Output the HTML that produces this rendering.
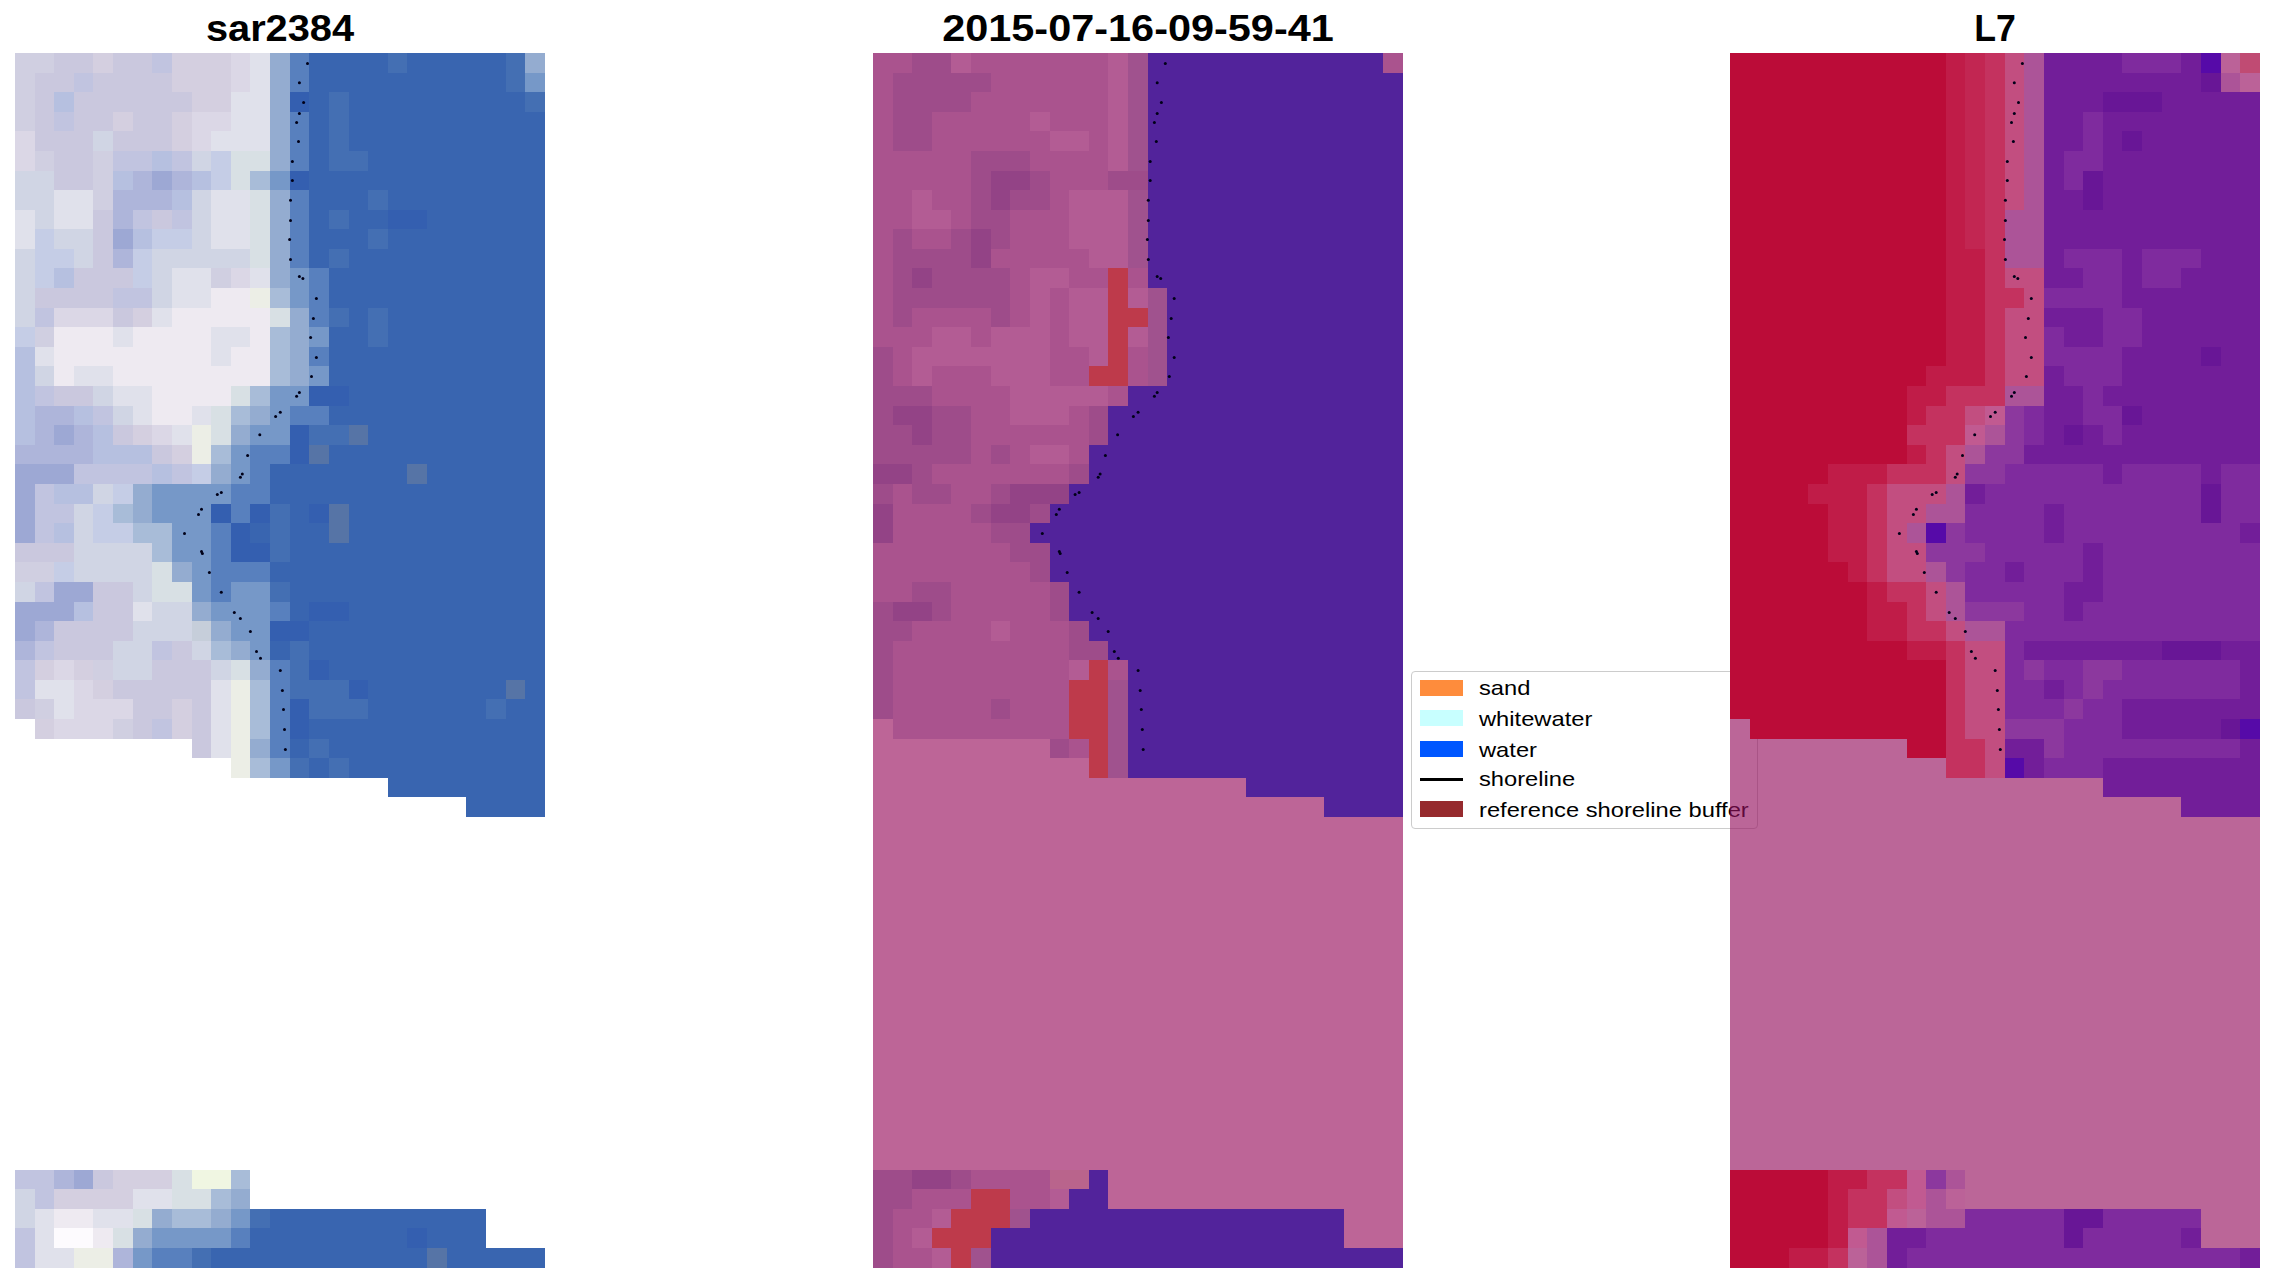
<!DOCTYPE html><html><head><meta charset="utf-8"><title>figure</title><style>

*{margin:0;padding:0;box-sizing:border-box}
html,body{width:2274px;height:1283px;overflow:hidden;background:#fff}
body{position:relative;font-family:"Liberation Sans",sans-serif;color:#000}
.pn{position:absolute;display:block}
.dots{position:absolute;left:0;top:0;fill:#000018}
.tt{position:absolute;width:500px;text-align:center;font-weight:bold;font-size:36px;line-height:40px;white-space:nowrap;transform-origin:50% 50%}
.lg{position:absolute;left:1411px;top:670.5px;width:347px;height:158px;border:1.8px solid #cccccc;border-radius:4px;background:#fff}
.li{position:absolute;left:1478.5px;font-size:20.8px;line-height:24px;white-space:nowrap;transform-origin:0 50%}
.lp{position:absolute;left:1420px;width:43px;height:15.8px}

</style></head><body>
<div class="tt" style="left:30.0px;top:9.3px;transform:scaleX(1.105)">sar2384</div>
<div class="tt" style="left:887.8px;top:9.3px;transform:scaleX(1.151)">2015-07-16-09-59-41</div>
<div class="tt" style="left:1744.9px;top:9.3px;transform:scaleX(0.990)">L7</div>
<svg class="pn" style="left:15.10px;top:53.00px;width:529.75px;height:1214.60px" viewBox="0 0 27 62" preserveAspectRatio="none" shape-rendering="crispEdges">
<path fill="#d0cfe1" d="M0 0h2v1h-2zM0 1h1v1h-1zM0 2h1v1h-1zM0 3h1v1h-1zM1 5h1v1h-1zM4 5h1v1h-1zM4 6h1v1h-1zM4 7h1v1h-1zM10 11h1v1h-1zM1 14h1v1h-1zM0 26h2v1h-2zM4 31h1v1h-1zM1 33h1v1h-1zM5 34h1v1h-1z"/>
<path fill="#cac8de" d="M2 0h2v1h-2zM5 0h2v1h-2zM1 1h2v1h-2zM4 1h4v1h-4zM1 2h1v1h-1zM3 2h6v1h-6zM1 3h1v1h-1zM3 3h2v1h-2zM6 3h2v1h-2zM1 4h3v1h-3zM5 4h3v1h-3zM2 5h2v1h-2zM2 6h2v1h-2zM4 8h1v1h-1zM7 8h1v1h-1zM4 9h1v1h-1zM4 10h1v1h-1zM3 11h3v1h-3zM1 12h4v1h-4zM5 13h1v1h-1zM2 17h2v1h-2zM5 19h1v1h-1zM7 20h1v1h-1zM0 25h3v1h-3zM4 27h2v1h-2zM4 28h2v1h-2zM2 29h4v1h-4zM2 30h3v1h-3zM8 30h1v1h-1zM7 31h3v1h-3zM5 32h5v1h-5zM0 33h1v1h-1zM6 33h2v1h-2zM9 33h1v1h-1zM6 34h1v1h-1zM9 34h1v1h-1zM9 35h1v1h-1zM4 57h1v1h-1z"/>
<path fill="#d4cfe0" d="M4 0h1v1h-1zM8 0h3v1h-3zM8 1h3v1h-3zM9 2h2v1h-2zM5 3h1v1h-1zM8 3h1v1h-1zM8 4h1v1h-1zM6 13h1v1h-1zM6 19h1v1h-1zM8 20h1v1h-1zM1 31h1v1h-1zM3 31h1v1h-1zM4 32h1v1h-1zM8 33h1v1h-1zM1 34h1v1h-1zM8 34h1v1h-1zM5 57h3v1h-3zM2 58h4v1h-4z"/>
<path fill="#c1c4e0" d="M7 0h1v1h-1zM3 1h1v1h-1zM2 3h1v1h-1zM5 5h2v1h-2zM8 5h1v1h-1zM6 8h1v1h-1zM8 8h1v1h-1zM5 12h2v1h-2zM1 13h1v1h-1zM1 17h1v1h-1zM4 18h1v1h-1zM3 21h4v1h-4zM8 21h1v1h-1zM1 22h1v1h-1zM1 23h2v1h-2zM1 24h1v1h-1zM1 27h1v1h-1zM1 30h1v1h-1zM7 30h1v1h-1zM0 31h1v1h-1zM0 32h1v1h-1zM7 34h1v1h-1zM0 57h2v1h-2zM1 58h1v1h-1zM0 60h1v1h-1zM0 61h1v1h-1z"/>
<path fill="#dbd7e6" d="M11 0h1v1h-1zM11 1h1v1h-1zM9 3h2v1h-2zM0 4h1v1h-1zM9 4h1v1h-1zM0 5h1v1h-1zM11 11h1v1h-1zM2 13h3v1h-3zM7 19h1v1h-1zM2 31h1v1h-1zM3 32h1v1h-1zM3 33h3v1h-3zM2 34h3v1h-3z"/>
<path fill="#e0e1eb" d="M12 0h1v1h-1zM12 1h1v1h-1zM11 2h2v1h-2zM11 3h2v1h-2zM10 4h3v1h-3zM2 7h2v1h-2zM10 7h2v1h-2zM0 8h1v1h-1zM2 8h2v1h-2zM10 8h2v1h-2zM0 9h1v1h-1zM10 9h2v1h-2zM8 11h2v1h-2zM12 11h1v1h-1zM8 12h2v1h-2zM7 13h1v1h-1zM5 14h1v1h-1zM10 14h2v1h-2zM1 15h1v1h-1zM10 15h1v1h-1zM3 16h2v1h-2zM5 17h2v1h-2zM6 18h1v1h-1zM9 18h1v1h-1zM8 19h1v1h-1zM6 28h1v1h-1zM1 32h2v1h-2zM10 32h1v1h-1zM2 33h1v1h-1zM10 33h1v1h-1zM10 34h1v1h-1zM10 35h1v1h-1zM6 58h2v1h-2zM1 59h1v1h-1zM4 59h2v1h-2zM1 60h1v1h-1zM1 61h2v1h-2z"/>
<path fill="#94acd0" d="M13 0h1v1h-1zM26 0h1v1h-1zM13 1h1v1h-1zM13 2h1v1h-1zM13 3h1v1h-1zM13 4h1v1h-1zM13 5h1v1h-1zM13 7h1v1h-1zM13 8h1v1h-1zM13 9h1v1h-1zM13 10h1v1h-1zM13 11h1v1h-1zM14 13h1v1h-1zM14 14h1v1h-1zM14 15h1v1h-1zM14 16h1v1h-1zM12 18h1v1h-1zM11 19h1v1h-1zM10 21h1v1h-1zM6 22h1v1h-1zM6 23h1v1h-1zM8 26h1v1h-1zM9 28h1v1h-1zM10 29h1v1h-1zM11 30h1v1h-1zM12 31h1v1h-1zM12 35h1v1h-1zM11 58h1v1h-1zM7 59h1v1h-1zM10 59h1v1h-1zM6 60h1v1h-1z"/>
<path fill="#5880be" d="M14 0h1v1h-1zM14 1h1v1h-1zM14 3h1v1h-1zM14 4h1v1h-1zM14 5h1v1h-1zM14 7h1v1h-1zM14 8h1v1h-1zM14 9h1v1h-1zM14 10h1v1h-1zM15 11h1v1h-1zM15 12h1v1h-1zM15 13h1v1h-1zM15 15h1v1h-1zM14 18h2v1h-2zM12 20h2v1h-2zM12 21h1v1h-1zM11 22h2v1h-2zM11 23h1v1h-1zM10 24h1v1h-1zM10 25h1v1h-1zM10 26h3v1h-3zM10 27h1v1h-1zM13 28h1v1h-1zM13 31h1v1h-1zM13 32h1v1h-1zM13 33h1v1h-1zM13 34h1v1h-1zM13 35h1v1h-1zM11 60h1v1h-1zM7 61h2v1h-2z"/>
<path fill="#3965b0" d="M15 0h4v1h-4zM20 0h5v1h-5zM15 1h10v1h-10zM15 2h1v1h-1zM17 2h9v1h-9zM15 3h1v1h-1zM17 3h10v1h-10zM15 4h1v1h-1zM17 4h10v1h-10zM15 5h1v1h-1zM18 5h9v1h-9zM15 6h12v1h-12zM15 7h3v1h-3zM19 7h8v1h-8zM15 8h1v1h-1zM17 8h2v1h-2zM21 8h6v1h-6zM15 9h3v1h-3zM19 9h8v1h-8zM15 10h1v1h-1zM17 10h10v1h-10zM16 11h11v1h-11zM16 12h11v1h-11zM17 13h1v1h-1zM19 13h8v1h-8zM16 14h2v1h-2zM19 14h8v1h-8zM16 15h11v1h-11zM16 16h11v1h-11zM17 17h10v1h-10zM16 18h11v1h-11zM18 19h9v1h-9zM16 20h11v1h-11zM13 21h7v1h-7zM21 21h6v1h-6zM13 22h14v1h-14zM14 23h1v1h-1zM17 23h10v1h-10zM12 24h1v1h-1zM14 24h2v1h-2zM17 24h10v1h-10zM14 25h13v1h-13zM13 26h14v1h-14zM14 27h13v1h-13zM14 28h1v1h-1zM17 28h10v1h-10zM15 29h12v1h-12zM13 30h1v1h-1zM15 30h12v1h-12zM16 31h11v1h-11zM18 32h7v1h-7zM26 32h1v1h-1zM18 33h6v1h-6zM25 33h2v1h-2zM15 34h12v1h-12zM14 35h1v1h-1zM16 35h11v1h-11zM15 36h1v1h-1zM17 36h10v1h-10zM19 37h8v1h-8zM23 38h4v1h-4zM13 59h11v1h-11zM12 60h8v1h-8zM21 60h3v1h-3zM10 61h11v1h-11zM22 61h5v1h-5z"/>
<path fill="#446fb3" d="M19 0h1v1h-1zM25 0h1v1h-1zM25 1h1v1h-1zM16 2h1v1h-1zM26 2h1v1h-1zM16 3h1v1h-1zM16 4h1v1h-1zM16 5h2v1h-2zM18 7h1v1h-1zM16 8h1v1h-1zM18 9h1v1h-1zM16 10h1v1h-1zM16 13h1v1h-1zM18 13h1v1h-1zM18 14h1v1h-1zM15 19h2v1h-2zM13 23h1v1h-1zM13 24h1v1h-1zM13 25h1v1h-1zM13 27h1v1h-1zM14 30h1v1h-1zM14 31h1v1h-1zM14 32h3v1h-3zM15 33h3v1h-3zM24 33h1v1h-1zM15 35h1v1h-1zM14 36h1v1h-1zM16 36h1v1h-1zM12 59h1v1h-1zM9 61h1v1h-1z"/>
<path fill="#7698c8" d="M26 1h1v1h-1zM13 6h1v1h-1zM14 11h1v1h-1zM14 12h1v1h-1zM15 14h1v1h-1zM15 16h1v1h-1zM13 17h2v1h-2zM13 18h1v1h-1zM12 19h2v1h-2zM11 20h1v1h-1zM11 21h1v1h-1zM7 22h4v1h-4zM7 23h3v1h-3zM8 24h2v1h-2zM8 25h2v1h-2zM9 26h1v1h-1zM9 27h1v1h-1zM11 27h2v1h-2zM10 28h3v1h-3zM11 29h2v1h-2zM12 30h1v1h-1zM13 36h1v1h-1zM11 59h1v1h-1zM7 60h4v1h-4zM6 61h1v1h-1z"/>
<path fill="#b6c0e0" d="M2 2h1v1h-1zM7 5h1v1h-1zM5 6h1v1h-1zM9 6h1v1h-1zM8 7h1v1h-1zM6 9h1v1h-1zM2 11h1v1h-1zM0 15h1v1h-1zM0 16h1v1h-1zM0 17h1v1h-1zM0 18h1v1h-1zM3 18h1v1h-1zM0 19h1v1h-1zM4 19h1v1h-1zM4 20h3v1h-3zM7 21h1v1h-1zM2 22h2v1h-2zM2 24h1v1h-1zM3 28h1v1h-1z"/>
<path fill="#345fb0" d="M14 2h1v1h-1zM14 6h1v1h-1zM19 8h2v1h-2zM15 17h2v1h-2zM14 19h1v1h-1zM14 20h1v1h-1zM10 23h1v1h-1zM12 23h1v1h-1zM15 23h1v1h-1zM11 24h1v1h-1zM11 25h2v1h-2zM15 28h2v1h-2zM13 29h2v1h-2zM15 31h1v1h-1zM17 32h1v1h-1zM14 33h1v1h-1zM14 34h1v1h-1zM20 60h1v1h-1z"/>
<path fill="#d0d5e4" d="M4 4h1v1h-1zM9 5h1v1h-1zM0 6h2v1h-2zM0 7h2v1h-2zM9 7h1v1h-1zM1 8h1v1h-1zM9 8h1v1h-1zM2 9h2v1h-2zM9 9h1v1h-1zM0 10h1v1h-1zM3 10h1v1h-1zM7 10h5v1h-5zM0 11h1v1h-1zM7 11h1v1h-1zM0 12h1v1h-1zM7 12h1v1h-1zM0 13h1v1h-1zM1 16h1v1h-1zM4 17h1v1h-1zM5 18h1v1h-1zM4 22h1v1h-1zM3 23h1v1h-1zM3 24h1v1h-1zM3 25h4v1h-4zM3 26h4v1h-4zM0 27h1v1h-1zM6 27h1v1h-1zM7 28h2v1h-2zM6 29h3v1h-3zM5 30h2v1h-2zM9 30h1v1h-1zM5 31h2v1h-2zM10 31h1v1h-1zM0 58h1v1h-1zM0 59h1v1h-1z"/>
<path fill="#c5cde6" d="M10 5h1v1h-1zM10 6h1v1h-1zM1 9h1v1h-1zM7 9h2v1h-2zM1 10h2v1h-2zM6 10h1v1h-1zM1 11h1v1h-1zM6 11h1v1h-1zM0 14h1v1h-1zM9 21h1v1h-1zM5 22h1v1h-1zM4 23h1v1h-1zM4 24h2v1h-2zM2 26h1v1h-1z"/>
<path fill="#d8e0e4" d="M11 5h2v1h-2zM11 6h1v1h-1zM12 7h1v1h-1zM12 8h1v1h-1zM12 9h1v1h-1zM12 10h1v1h-1zM13 13h1v1h-1zM11 17h1v1h-1zM10 18h1v1h-1zM10 19h1v1h-1zM7 26h1v1h-1zM7 27h2v1h-2zM11 31h1v1h-1zM8 57h1v1h-1zM8 58h2v1h-2zM6 59h1v1h-1zM5 60h1v1h-1z"/>
<path fill="#aeb5da" d="M6 6h1v1h-1zM8 6h1v1h-1zM5 7h3v1h-3zM5 8h1v1h-1zM5 10h1v1h-1zM1 18h2v1h-2zM1 19h1v1h-1zM3 19h1v1h-1zM0 20h4v1h-4zM1 29h1v1h-1zM0 30h1v1h-1zM2 57h1v1h-1zM5 61h1v1h-1z"/>
<path fill="#9da8d4" d="M7 6h1v1h-1zM5 9h1v1h-1zM2 19h1v1h-1zM0 21h3v1h-3zM0 22h1v1h-1zM0 23h1v1h-1zM0 24h1v1h-1zM2 27h2v1h-2zM0 28h3v1h-3zM0 29h1v1h-1zM3 57h1v1h-1z"/>
<path fill="#a8bcd8" d="M12 6h1v1h-1zM13 12h1v1h-1zM13 14h1v1h-1zM13 15h1v1h-1zM13 16h1v1h-1zM12 17h1v1h-1zM11 18h1v1h-1zM10 20h1v1h-1zM5 23h1v1h-1zM6 24h2v1h-2zM7 25h1v1h-1zM10 30h1v1h-1zM12 32h1v1h-1zM12 33h1v1h-1zM12 34h1v1h-1zM12 36h1v1h-1zM11 57h1v1h-1zM10 58h1v1h-1zM8 59h2v1h-2z"/>
<path fill="#eeeaf1" d="M10 12h2v1h-2zM8 13h5v1h-5zM2 14h3v1h-3zM6 14h4v1h-4zM12 14h1v1h-1zM2 15h8v1h-8zM11 15h2v1h-2zM2 16h1v1h-1zM5 16h8v1h-8zM7 17h4v1h-4zM7 18h2v1h-2zM2 59h2v1h-2zM4 60h1v1h-1z"/>
<path fill="#eceee6" d="M12 12h1v1h-1zM9 19h1v1h-1zM9 20h1v1h-1zM11 32h1v1h-1zM11 33h1v1h-1zM11 34h1v1h-1zM11 35h1v1h-1zM11 36h1v1h-1zM3 61h2v1h-2z"/>
<path fill="#5674a6" d="M17 19h1v1h-1zM15 20h1v1h-1zM20 21h1v1h-1zM16 23h1v1h-1zM16 24h1v1h-1zM25 32h1v1h-1zM21 61h1v1h-1z"/>
<path fill="#c6ceda" d="M9 29h1v1h-1z"/>
<path fill="#f0f6e2" d="M9 57h2v1h-2z"/>
<path fill="#fdfbfe" d="M2 60h2v1h-2z"/>
</svg>
<svg class="pn" style="left:872.90px;top:53.00px;width:529.75px;height:1214.60px" viewBox="0 0 27 62" preserveAspectRatio="none" shape-rendering="crispEdges">
<rect width="27" height="62" fill="#52239b"/>
<path fill="#aa538e" d="M0 0h2v1h-2zM5 0h7v1h-7zM26 0h1v1h-1zM0 1h1v1h-1zM6 1h6v1h-6zM0 2h1v1h-1zM5 2h7v1h-7zM0 3h1v1h-1zM3 3h5v1h-5zM9 3h3v1h-3zM0 4h1v1h-1zM3 4h6v1h-6zM11 4h1v1h-1zM0 5h5v1h-5zM8 5h4v1h-4zM0 6h5v1h-5zM9 6h3v1h-3zM0 7h2v1h-2zM3 7h2v1h-2zM9 7h1v1h-1zM0 8h2v1h-2zM4 8h1v1h-1zM7 8h3v1h-3zM0 9h1v1h-1zM2 9h2v1h-2zM7 9h3v1h-3zM0 10h1v1h-1zM6 10h5v1h-5zM0 11h1v1h-1zM7 11h1v1h-1zM10 11h2v1h-2zM13 11h1v1h-1zM0 12h1v1h-1zM7 12h1v1h-1zM9 12h1v1h-1zM0 13h1v1h-1zM2 13h4v1h-4zM7 13h1v1h-1zM9 13h1v1h-1zM0 14h3v1h-3zM5 14h1v1h-1zM9 14h1v1h-1zM1 15h1v1h-1zM9 15h2v1h-2zM13 15h1v1h-1zM1 16h1v1h-1zM3 16h3v1h-3zM9 16h2v1h-2zM13 16h1v1h-1zM3 17h4v1h-4zM12 17h1v1h-1zM5 18h2v1h-2zM10 18h1v1h-1zM5 19h6v1h-6zM5 20h1v1h-1zM7 20h1v1h-1zM10 20h1v1h-1zM3 21h7v1h-7zM1 22h1v1h-1zM4 22h2v1h-2zM1 23h4v1h-4zM1 24h5v1h-5zM0 25h7v1h-7zM0 26h8v1h-8zM0 27h2v1h-2zM4 27h5v1h-5zM4 28h5v1h-5zM2 29h4v1h-4zM7 29h3v1h-3zM1 30h9v1h-9zM1 31h9v1h-9zM12 31h1v1h-1zM1 32h9v1h-9zM1 33h5v1h-5zM7 33h3v1h-3zM1 34h9v1h-9zM10 35h1v1h-1zM5 57h4v1h-4zM2 58h3v1h-3zM7 58h2v1h-2zM1 59h2v1h-2zM1 60h1v1h-1zM1 61h2v1h-2z"/>
<path fill="#9e4c8a" d="M2 0h2v1h-2zM1 1h5v1h-5zM1 2h4v1h-4zM1 3h2v1h-2zM1 4h2v1h-2zM5 5h3v1h-3zM5 6h1v1h-1zM8 6h1v1h-1zM12 6h2v1h-2zM5 7h1v1h-1zM7 7h2v1h-2zM5 8h2v1h-2zM1 9h1v1h-1zM4 9h1v1h-1zM6 9h1v1h-1zM1 10h4v1h-4zM1 11h1v1h-1zM3 11h4v1h-4zM1 12h6v1h-6zM1 13h1v1h-1zM6 13h1v1h-1zM0 15h1v1h-1zM0 16h1v1h-1zM0 17h3v1h-3zM0 18h1v1h-1zM3 18h2v1h-2zM11 18h1v1h-1zM0 19h2v1h-2zM3 19h2v1h-2zM11 19h1v1h-1zM0 20h5v1h-5zM6 20h1v1h-1zM2 21h1v1h-1zM10 21h1v1h-1zM0 22h1v1h-1zM2 22h2v1h-2zM6 22h1v1h-1zM5 23h1v1h-1zM8 23h1v1h-1zM6 24h2v1h-2zM7 25h2v1h-2zM8 26h1v1h-1zM2 27h2v1h-2zM9 27h1v1h-1zM0 28h1v1h-1zM3 28h1v1h-1zM9 28h1v1h-1zM0 29h2v1h-2zM10 29h1v1h-1zM0 30h1v1h-1zM10 30h2v1h-2zM0 31h1v1h-1zM0 32h1v1h-1zM0 33h1v1h-1zM6 33h1v1h-1zM9 35h1v1h-1zM0 57h2v1h-2zM4 57h1v1h-1zM0 58h2v1h-2zM0 59h1v1h-1zM0 60h1v1h-1zM0 61h1v1h-1z"/>
<path fill="#b35c94" d="M4 0h1v1h-1zM12 0h1v1h-1zM12 1h1v1h-1zM12 2h1v1h-1zM8 3h1v1h-1zM12 3h1v1h-1zM9 4h2v1h-2zM12 4h1v1h-1zM12 5h1v1h-1zM2 7h1v1h-1zM10 7h3v1h-3zM2 8h2v1h-2zM10 8h3v1h-3zM10 9h3v1h-3zM11 10h2v1h-2zM8 11h2v1h-2zM8 12h1v1h-1zM10 12h2v1h-2zM13 12h1v1h-1zM8 13h1v1h-1zM10 13h2v1h-2zM3 14h2v1h-2zM6 14h3v1h-3zM10 14h2v1h-2zM13 14h1v1h-1zM2 15h7v1h-7zM11 15h1v1h-1zM2 16h1v1h-1zM6 16h3v1h-3zM7 17h5v1h-5zM7 18h3v1h-3zM8 20h2v1h-2zM6 29h1v1h-1zM10 31h1v1h-1zM9 58h1v1h-1zM3 59h1v1h-1zM2 60h1v1h-1zM3 61h1v1h-1z"/>
<path fill="#a0528e" d="M13 0h1v1h-1zM13 1h1v1h-1zM13 2h1v1h-1zM13 3h1v1h-1zM13 4h1v1h-1zM13 5h1v1h-1zM13 7h1v1h-1zM13 8h1v1h-1zM13 9h1v1h-1zM13 10h1v1h-1zM14 12h1v1h-1zM14 13h1v1h-1zM14 14h1v1h-1zM14 15h1v1h-1zM14 16h1v1h-1zM12 32h1v1h-1zM12 33h1v1h-1zM12 34h1v1h-1zM12 35h1v1h-1zM12 36h1v1h-1zM7 59h1v1h-1zM5 61h1v1h-1z"/>
<path fill="#934386" d="M6 6h2v1h-2zM6 7h1v1h-1zM5 9h1v1h-1zM5 10h1v1h-1zM2 11h1v1h-1zM1 18h2v1h-2zM2 19h1v1h-1zM0 21h2v1h-2zM7 22h3v1h-3zM0 23h1v1h-1zM6 23h2v1h-2zM0 24h1v1h-1zM1 28h2v1h-2zM2 57h2v1h-2z"/>
<path fill="#be3a4b" d="M12 11h1v1h-1zM12 12h1v1h-1zM12 13h2v1h-2zM12 14h1v1h-1zM12 15h1v1h-1zM11 16h2v1h-2zM11 31h1v1h-1zM10 32h2v1h-2zM10 33h2v1h-2zM10 34h2v1h-2zM11 35h1v1h-1zM11 36h1v1h-1zM5 58h2v1h-2zM4 59h3v1h-3zM3 60h3v1h-3zM4 61h1v1h-1z"/>
<path fill="#bd6597" d="M0 34h1v1h-1zM0 35h9v1h-9zM0 36h11v1h-11zM0 37h19v1h-19zM0 38h23v1h-23zM0 39h27v1h-27zM0 40h27v1h-27zM0 41h27v1h-27zM0 42h27v1h-27zM0 43h27v1h-27zM0 44h27v1h-27zM0 45h27v1h-27zM0 46h27v1h-27zM0 47h27v1h-27zM0 48h27v1h-27zM0 49h27v1h-27zM0 50h27v1h-27zM0 51h27v1h-27zM0 52h27v1h-27zM0 53h27v1h-27zM0 54h27v1h-27zM0 55h27v1h-27zM0 56h27v1h-27zM12 57h15v1h-15zM12 58h15v1h-15zM24 59h3v1h-3zM24 60h3v1h-3z"/>
<path fill="#b9648c" d="M9 57h2v1h-2z"/>
</svg>
<div class="lg"></div>
<div class="li" style="top:676.3px;transform:scaleX(1.140)">sand</div>
<div class="lp" style="top:679.9px;background:rgb(254,140,60)"></div>
<div class="li" style="top:706.7px;transform:scaleX(1.140)">whitewater</div>
<div class="lp" style="top:710.3px;background:rgb(200,255,255)"></div>
<div class="li" style="top:737.6px;transform:scaleX(1.140)">water</div>
<div class="lp" style="top:741.2px;background:rgb(0,87,255)"></div>
<div class="li" style="top:767.4px;transform:scaleX(1.140)">shoreline</div>
<div class="lp" style="top:777.8px;height:3px;background:#000"></div>
<div class="li" style="top:797.8px;transform:scaleX(1.140)">reference shoreline buffer</div>
<div class="lp" style="top:801.4px;background:rgb(150,42,46)"></div>
<svg class="pn" style="left:1730.00px;top:53.00px;width:529.75px;height:1214.60px" viewBox="0 0 27 62" preserveAspectRatio="none" shape-rendering="crispEdges">
<path fill="#bb0c38" d="M0 0h11v1h-11zM0 1h11v1h-11zM0 2h11v1h-11zM0 3h11v1h-11zM0 4h11v1h-11zM0 5h11v1h-11zM0 6h11v1h-11zM0 7h11v1h-11zM0 8h11v1h-11zM0 9h11v1h-11zM0 10h11v1h-11zM0 11h11v1h-11zM0 12h11v1h-11zM0 13h11v1h-11zM0 14h11v1h-11zM0 15h11v1h-11zM0 16h10v1h-10zM0 17h9v1h-9zM0 18h9v1h-9zM0 19h9v1h-9zM0 20h9v1h-9zM0 21h5v1h-5zM0 22h4v1h-4zM0 23h5v1h-5zM0 24h5v1h-5zM0 25h5v1h-5zM0 26h6v1h-6zM0 27h7v1h-7zM0 28h7v1h-7zM0 29h7v1h-7zM0 30h9v1h-9zM0 31h11v1h-11zM0 32h11v1h-11zM0 33h11v1h-11zM1 34h10v1h-10zM9 35h2v1h-2zM0 57h5v1h-5zM0 58h5v1h-5zM0 59h5v1h-5zM0 60h5v1h-5zM0 61h3v1h-3z"/>
<path fill="#c01c48" d="M11 0h1v1h-1zM11 1h1v1h-1zM11 2h1v1h-1zM11 3h1v1h-1zM11 4h1v1h-1zM11 5h1v1h-1zM11 6h1v1h-1zM11 7h1v1h-1zM11 8h1v1h-1zM11 9h1v1h-1zM11 10h2v1h-2zM11 11h2v1h-2zM11 12h2v1h-2zM11 13h2v1h-2zM11 14h2v1h-2zM11 15h2v1h-2zM10 16h3v1h-3zM9 17h2v1h-2zM9 18h1v1h-1zM9 20h1v1h-1zM5 21h3v1h-3zM4 22h3v1h-3zM5 23h2v1h-2zM5 24h2v1h-2zM5 25h2v1h-2zM6 26h1v1h-1zM7 27h1v1h-1zM7 28h2v1h-2zM7 29h2v1h-2zM9 30h2v1h-2zM5 57h2v1h-2zM5 58h1v1h-1zM5 59h1v1h-1zM5 60h1v1h-1zM3 61h2v1h-2z"/>
<path fill="#c22652" d="M12 0h1v1h-1zM12 1h1v1h-1zM12 2h1v1h-1zM12 3h1v1h-1zM12 4h1v1h-1zM12 5h1v1h-1zM12 6h1v1h-1zM12 7h1v1h-1zM12 8h1v1h-1zM12 9h1v1h-1z"/>
<path fill="#c4325f" d="M13 0h1v1h-1zM13 1h1v1h-1zM13 2h1v1h-1zM13 3h1v1h-1zM13 4h1v1h-1zM13 5h1v1h-1zM13 6h1v1h-1zM13 7h1v1h-1zM13 8h1v1h-1zM13 9h1v1h-1zM13 10h1v1h-1zM13 11h1v1h-1zM13 12h2v1h-2zM13 13h1v1h-1zM13 14h1v1h-1zM13 15h1v1h-1zM13 16h1v1h-1zM11 17h3v1h-3zM10 18h2v1h-2zM9 19h3v1h-3zM10 20h1v1h-1zM8 21h3v1h-3zM7 22h1v1h-1zM7 23h1v1h-1zM7 24h1v1h-1zM7 25h1v1h-1zM7 26h1v1h-1zM8 27h2v1h-2zM9 28h1v1h-1zM9 29h2v1h-2zM11 30h1v1h-1zM11 31h1v1h-1zM11 32h1v1h-1zM11 33h1v1h-1zM11 34h1v1h-1zM11 35h2v1h-2zM11 36h2v1h-2zM7 57h2v1h-2zM6 58h2v1h-2zM6 59h2v1h-2zM5 61h1v1h-1z"/>
<path fill="#c24e80" d="M14 0h1v1h-1zM14 1h1v1h-1zM14 2h1v1h-1zM14 3h1v1h-1zM14 4h1v1h-1zM14 5h1v1h-1zM14 6h1v1h-1zM14 7h1v1h-1zM14 11h2v1h-2zM15 12h1v1h-1zM14 13h2v1h-2zM14 14h2v1h-2zM14 15h2v1h-2zM14 16h2v1h-2zM12 18h1v1h-1zM11 20h1v1h-1zM11 21h1v1h-1zM8 22h3v1h-3zM8 23h2v1h-2zM8 24h1v1h-1zM8 25h2v1h-2zM8 26h2v1h-2zM10 27h1v1h-1zM10 28h1v1h-1zM11 29h1v1h-1zM12 30h2v1h-2zM12 31h2v1h-2zM12 32h2v1h-2zM12 33h2v1h-2zM12 34h2v1h-2zM13 35h1v1h-1zM13 36h1v1h-1zM8 58h1v1h-1z"/>
<path fill="#ac5498" d="M15 0h1v1h-1zM15 1h1v1h-1zM25 1h1v1h-1zM15 2h1v1h-1zM15 3h1v1h-1zM15 4h1v1h-1zM15 5h1v1h-1zM15 6h1v1h-1zM15 7h1v1h-1zM14 8h2v1h-2zM14 9h2v1h-2zM14 10h2v1h-2zM14 17h2v1h-2zM13 19h1v1h-1zM12 20h1v1h-1zM11 22h1v1h-1zM10 23h2v1h-2zM9 24h1v1h-1zM10 26h1v1h-1zM11 27h1v1h-1zM11 28h1v1h-1zM12 29h2v1h-2zM11 57h1v1h-1zM10 58h1v1h-1zM10 59h2v1h-2zM7 60h1v1h-1zM7 61h1v1h-1z"/>
<path fill="#721e99" d="M16 0h4v1h-4zM23 0h1v1h-1zM16 1h8v1h-8zM16 2h3v1h-3zM22 2h5v1h-5zM16 3h2v1h-2zM19 3h8v1h-8zM16 4h2v1h-2zM19 4h1v1h-1zM21 4h6v1h-6zM16 5h1v1h-1zM19 5h8v1h-8zM16 6h1v1h-1zM19 6h8v1h-8zM16 7h2v1h-2zM19 7h8v1h-8zM16 8h11v1h-11zM16 9h11v1h-11zM16 10h1v1h-1zM20 10h1v1h-1zM24 10h3v1h-3zM16 11h2v1h-2zM20 11h1v1h-1zM23 11h4v1h-4zM20 12h7v1h-7zM16 13h3v1h-3zM21 13h6v1h-6zM17 14h2v1h-2zM21 14h6v1h-6zM20 15h4v1h-4zM25 15h2v1h-2zM16 16h1v1h-1zM20 16h7v1h-7zM16 17h2v1h-2zM19 17h8v1h-8zM16 18h2v1h-2zM21 18h6v1h-6zM16 19h1v1h-1zM18 19h1v1h-1zM20 19h7v1h-7zM15 20h12v1h-12zM19 21h1v1h-1zM24 21h1v1h-1zM12 22h1v1h-1zM16 23h1v1h-1zM16 24h1v1h-1zM26 24h1v1h-1zM18 25h1v1h-1zM14 26h1v1h-1zM18 26h1v1h-1zM17 27h2v1h-2zM17 28h1v1h-1zM15 30h7v1h-7zM25 30h2v1h-2zM26 31h1v1h-1zM16 32h1v1h-1zM26 32h1v1h-1zM20 33h7v1h-7zM20 34h5v1h-5zM14 35h2v1h-2zM26 35h1v1h-1zM15 36h1v1h-1zM19 36h8v1h-8zM19 37h8v1h-8zM23 38h4v1h-4zM8 60h2v1h-2zM23 60h1v1h-1zM8 61h1v1h-1zM26 61h1v1h-1z"/>
<path fill="#7f2b9e" d="M20 0h3v1h-3zM18 3h1v1h-1zM18 4h1v1h-1zM17 5h2v1h-2zM17 6h1v1h-1zM17 10h3v1h-3zM21 10h3v1h-3zM18 11h2v1h-2zM21 11h2v1h-2zM16 12h4v1h-4zM19 13h2v1h-2zM16 14h1v1h-1zM19 14h2v1h-2zM16 15h4v1h-4zM17 16h3v1h-3zM18 17h1v1h-1zM15 18h1v1h-1zM18 18h2v1h-2zM15 19h1v1h-1zM19 19h1v1h-1zM14 21h5v1h-5zM20 21h4v1h-4zM25 21h2v1h-2zM13 22h11v1h-11zM25 22h2v1h-2zM12 23h4v1h-4zM17 23h7v1h-7zM25 23h2v1h-2zM12 24h4v1h-4zM17 24h9v1h-9zM13 25h5v1h-5zM19 25h8v1h-8zM12 26h2v1h-2zM15 26h3v1h-3zM19 26h8v1h-8zM12 27h5v1h-5zM19 27h8v1h-8zM15 28h2v1h-2zM18 28h9v1h-9zM14 29h13v1h-13zM14 30h1v1h-1zM14 31h1v1h-1zM16 31h2v1h-2zM20 31h6v1h-6zM14 32h2v1h-2zM17 32h1v1h-1zM19 32h7v1h-7zM14 33h3v1h-3zM18 33h2v1h-2zM17 34h3v1h-3zM17 35h9v1h-9zM16 36h3v1h-3zM12 59h5v1h-5zM19 59h5v1h-5zM10 60h7v1h-7zM18 60h5v1h-5zM9 61h17v1h-17z"/>
<path fill="#560aa8" d="M24 0h1v1h-1zM10 24h1v1h-1zM26 34h1v1h-1zM14 36h1v1h-1z"/>
<path fill="#bb6298" d="M25 0h1v1h-1zM26 1h1v1h-1zM11 58h1v1h-1zM9 59h1v1h-1zM6 61h1v1h-1z"/>
<path fill="#c04b73" d="M26 0h1v1h-1z"/>
<path fill="#681696" d="M24 1h1v1h-1zM19 2h3v1h-3zM20 4h1v1h-1zM18 6h1v1h-1zM18 7h1v1h-1zM24 15h1v1h-1zM20 18h1v1h-1zM17 19h1v1h-1zM24 22h1v1h-1zM24 23h1v1h-1zM22 30h3v1h-3zM25 34h1v1h-1zM17 59h2v1h-2zM17 60h1v1h-1z"/>
<path fill="#c15a91" d="M13 18h1v1h-1zM12 19h1v1h-1zM9 57h1v1h-1zM9 58h1v1h-1zM8 59h1v1h-1zM6 60h1v1h-1z"/>
<path fill="#8c389e" d="M14 18h1v1h-1zM14 19h1v1h-1zM13 20h2v1h-2zM12 21h2v1h-2zM11 24h1v1h-1zM10 25h3v1h-3zM11 26h1v1h-1zM12 28h3v1h-3zM15 31h1v1h-1zM18 31h2v1h-2zM18 32h1v1h-1zM17 33h1v1h-1zM14 34h3v1h-3zM16 35h1v1h-1zM10 57h1v1h-1z"/>
<path fill="rgba(148,16,94,0.64)" d="M0 34h1v1h-1zM0 35h9v1h-9zM0 36h11v1h-11zM0 37h19v1h-19zM0 38h23v1h-23zM0 39h27v1h-27zM0 40h27v1h-27zM0 41h27v1h-27zM0 42h27v1h-27zM0 43h27v1h-27zM0 44h27v1h-27zM0 45h27v1h-27zM0 46h27v1h-27zM0 47h27v1h-27zM0 48h27v1h-27zM0 49h27v1h-27zM0 50h27v1h-27zM0 51h27v1h-27zM0 52h27v1h-27zM0 53h27v1h-27zM0 54h27v1h-27zM0 55h27v1h-27zM0 56h27v1h-27zM12 57h15v1h-15zM12 58h15v1h-15zM24 59h3v1h-3zM24 60h3v1h-3z"/>
</svg>
<svg class="dots" width="2274" height="1283" viewBox="0 0 2274 1283">
<circle cx="307.5" cy="63.5" r="1.5"/>
<circle cx="299.4" cy="82.8" r="1.5"/>
<circle cx="303.6" cy="102.4" r="1.5"/>
<circle cx="299.4" cy="113.6" r="1.5"/>
<circle cx="296.6" cy="122.5" r="1.5"/>
<circle cx="298.5" cy="141.6" r="1.5"/>
<circle cx="292.4" cy="161.4" r="1.5"/>
<circle cx="292.4" cy="180.5" r="1.5"/>
<circle cx="290.5" cy="200.3" r="1.5"/>
<circle cx="290.5" cy="220.4" r="1.5"/>
<circle cx="289.6" cy="239.5" r="1.5"/>
<circle cx="290.5" cy="259.5" r="1.5"/>
<circle cx="299.4" cy="276.5" r="1.5"/>
<circle cx="302.9" cy="278.6" r="1.5"/>
<circle cx="316.4" cy="298.4" r="1.5"/>
<circle cx="313.4" cy="318.5" r="1.5"/>
<circle cx="310.6" cy="337.6" r="1.5"/>
<circle cx="316.4" cy="357.4" r="1.5"/>
<circle cx="311.5" cy="376.5" r="1.5"/>
<circle cx="299.4" cy="392.4" r="1.5"/>
<circle cx="296.6" cy="396.3" r="1.5"/>
<circle cx="280.3" cy="412.2" r="1.5"/>
<circle cx="275.6" cy="416.4" r="1.5"/>
<circle cx="259.8" cy="434.8" r="1.5"/>
<circle cx="247.6" cy="455.5" r="1.5"/>
<circle cx="242.3" cy="474.1" r="1.5"/>
<circle cx="240.4" cy="477.2" r="1.5"/>
<circle cx="221.3" cy="492.6" r="1.5"/>
<circle cx="217.3" cy="494.4" r="1.5"/>
<circle cx="201.5" cy="509.3" r="1.5"/>
<circle cx="198.5" cy="514.5" r="1.5"/>
<circle cx="184.5" cy="533.6" r="1.5"/>
<circle cx="201.5" cy="551.5" r="1.5"/>
<circle cx="202.4" cy="553.4" r="1.5"/>
<circle cx="209.4" cy="572.5" r="1.5"/>
<circle cx="221.3" cy="592.3" r="1.5"/>
<circle cx="234.3" cy="612.4" r="1.5"/>
<circle cx="240.4" cy="618.4" r="1.5"/>
<circle cx="250.4" cy="631.5" r="1.5"/>
<circle cx="256.5" cy="651.5" r="1.5"/>
<circle cx="260.5" cy="658.2" r="1.5"/>
<circle cx="280.3" cy="670.4" r="1.5"/>
<circle cx="282.4" cy="690.4" r="1.5"/>
<circle cx="283.5" cy="709.5" r="1.5"/>
<circle cx="284.5" cy="729.6" r="1.5"/>
<circle cx="285.4" cy="749.4" r="1.5"/>
<circle cx="1165.3" cy="63.5" r="1.5"/>
<circle cx="1157.2" cy="82.8" r="1.5"/>
<circle cx="1161.4" cy="102.4" r="1.5"/>
<circle cx="1157.2" cy="113.6" r="1.5"/>
<circle cx="1154.4" cy="122.5" r="1.5"/>
<circle cx="1156.3" cy="141.6" r="1.5"/>
<circle cx="1150.2" cy="161.4" r="1.5"/>
<circle cx="1150.2" cy="180.5" r="1.5"/>
<circle cx="1148.3" cy="200.3" r="1.5"/>
<circle cx="1148.3" cy="220.4" r="1.5"/>
<circle cx="1147.4" cy="239.5" r="1.5"/>
<circle cx="1148.3" cy="259.5" r="1.5"/>
<circle cx="1157.2" cy="276.5" r="1.5"/>
<circle cx="1160.7" cy="278.6" r="1.5"/>
<circle cx="1174.2" cy="298.4" r="1.5"/>
<circle cx="1171.2" cy="318.5" r="1.5"/>
<circle cx="1168.4" cy="337.6" r="1.5"/>
<circle cx="1174.2" cy="357.4" r="1.5"/>
<circle cx="1169.3" cy="376.5" r="1.5"/>
<circle cx="1157.2" cy="392.4" r="1.5"/>
<circle cx="1154.4" cy="396.3" r="1.5"/>
<circle cx="1138.1" cy="412.2" r="1.5"/>
<circle cx="1133.4" cy="416.4" r="1.5"/>
<circle cx="1117.6" cy="434.8" r="1.5"/>
<circle cx="1105.4" cy="455.5" r="1.5"/>
<circle cx="1100.1" cy="474.1" r="1.5"/>
<circle cx="1098.2" cy="477.2" r="1.5"/>
<circle cx="1079.1" cy="492.6" r="1.5"/>
<circle cx="1075.1" cy="494.4" r="1.5"/>
<circle cx="1059.3" cy="509.3" r="1.5"/>
<circle cx="1056.3" cy="514.5" r="1.5"/>
<circle cx="1042.3" cy="533.6" r="1.5"/>
<circle cx="1059.3" cy="551.5" r="1.5"/>
<circle cx="1060.2" cy="553.4" r="1.5"/>
<circle cx="1067.2" cy="572.5" r="1.5"/>
<circle cx="1079.1" cy="592.3" r="1.5"/>
<circle cx="1092.1" cy="612.4" r="1.5"/>
<circle cx="1098.2" cy="618.4" r="1.5"/>
<circle cx="1108.2" cy="631.5" r="1.5"/>
<circle cx="1114.3" cy="651.5" r="1.5"/>
<circle cx="1118.3" cy="658.2" r="1.5"/>
<circle cx="1138.1" cy="670.4" r="1.5"/>
<circle cx="1140.2" cy="690.4" r="1.5"/>
<circle cx="1141.3" cy="709.5" r="1.5"/>
<circle cx="1142.3" cy="729.6" r="1.5"/>
<circle cx="1143.2" cy="749.4" r="1.5"/>
<circle cx="2022.4" cy="63.5" r="1.5"/>
<circle cx="2014.3" cy="82.8" r="1.5"/>
<circle cx="2018.5" cy="102.4" r="1.5"/>
<circle cx="2014.3" cy="113.6" r="1.5"/>
<circle cx="2011.5" cy="122.5" r="1.5"/>
<circle cx="2013.4" cy="141.6" r="1.5"/>
<circle cx="2007.3" cy="161.4" r="1.5"/>
<circle cx="2007.3" cy="180.5" r="1.5"/>
<circle cx="2005.4" cy="200.3" r="1.5"/>
<circle cx="2005.4" cy="220.4" r="1.5"/>
<circle cx="2004.5" cy="239.5" r="1.5"/>
<circle cx="2005.4" cy="259.5" r="1.5"/>
<circle cx="2014.3" cy="276.5" r="1.5"/>
<circle cx="2017.8" cy="278.6" r="1.5"/>
<circle cx="2031.3" cy="298.4" r="1.5"/>
<circle cx="2028.3" cy="318.5" r="1.5"/>
<circle cx="2025.5" cy="337.6" r="1.5"/>
<circle cx="2031.3" cy="357.4" r="1.5"/>
<circle cx="2026.4" cy="376.5" r="1.5"/>
<circle cx="2014.3" cy="392.4" r="1.5"/>
<circle cx="2011.5" cy="396.3" r="1.5"/>
<circle cx="1995.2" cy="412.2" r="1.5"/>
<circle cx="1990.5" cy="416.4" r="1.5"/>
<circle cx="1974.7" cy="434.8" r="1.5"/>
<circle cx="1962.5" cy="455.5" r="1.5"/>
<circle cx="1957.2" cy="474.1" r="1.5"/>
<circle cx="1955.3" cy="477.2" r="1.5"/>
<circle cx="1936.2" cy="492.6" r="1.5"/>
<circle cx="1932.2" cy="494.4" r="1.5"/>
<circle cx="1916.4" cy="509.3" r="1.5"/>
<circle cx="1913.4" cy="514.5" r="1.5"/>
<circle cx="1899.4" cy="533.6" r="1.5"/>
<circle cx="1916.4" cy="551.5" r="1.5"/>
<circle cx="1917.3" cy="553.4" r="1.5"/>
<circle cx="1924.3" cy="572.5" r="1.5"/>
<circle cx="1936.2" cy="592.3" r="1.5"/>
<circle cx="1949.2" cy="612.4" r="1.5"/>
<circle cx="1955.3" cy="618.4" r="1.5"/>
<circle cx="1965.3" cy="631.5" r="1.5"/>
<circle cx="1971.4" cy="651.5" r="1.5"/>
<circle cx="1975.4" cy="658.2" r="1.5"/>
<circle cx="1995.2" cy="670.4" r="1.5"/>
<circle cx="1997.3" cy="690.4" r="1.5"/>
<circle cx="1998.4" cy="709.5" r="1.5"/>
<circle cx="1999.4" cy="729.6" r="1.5"/>
<circle cx="2000.3" cy="749.4" r="1.5"/>
</svg>
</body></html>
